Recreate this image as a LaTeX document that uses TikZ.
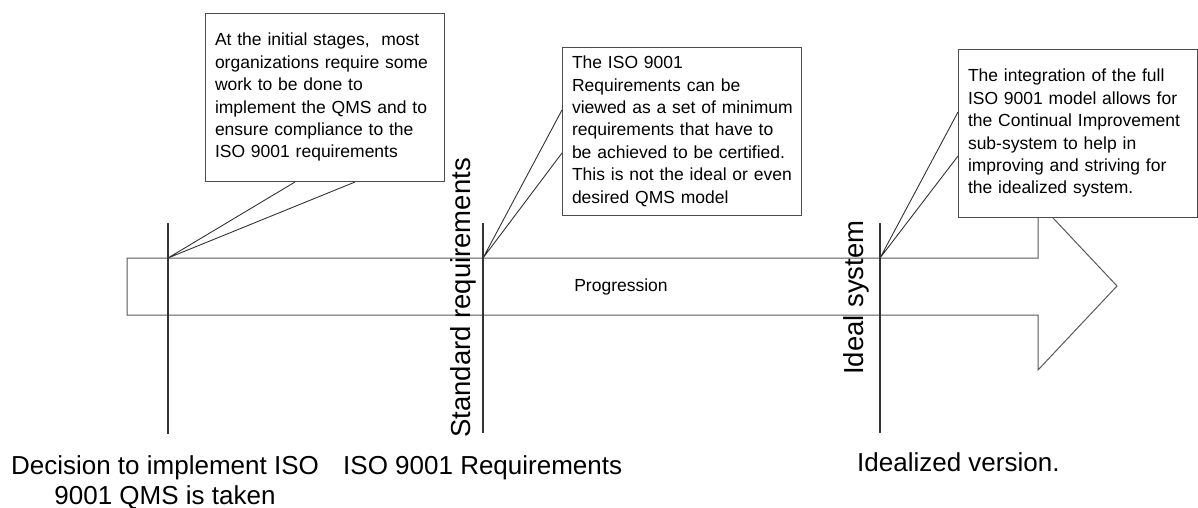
\documentclass[tikz,border=0pt]{standalone}
\usepackage{fontspec}
\setmainfont{Liberation Sans}
\newcommand{\notelines}[1]{\noindent\begin{tabular}{@{}l@{}}#1\end{tabular}}
\begin{document}
\begin{tikzpicture}[x=1pt,y=-1pt,
  note/.style={draw=black!70, fill=white, line width=1pt,
    minimum width=239pt, minimum height=168pt, text width=220pt,
    inner xsep=9.5pt, inner ysep=0pt, anchor=north west,
    font=\fontsize{17.5}{22.4}\selectfont},
  pointer/.style={draw=black!80, line width=0.9pt},
  marker/.style={draw=black!80, line width=1.1pt},
  outline/.style={draw=black!65, line width=1pt, fill=white},
  biglabel/.style={inner sep=0pt, font=\fontsize{26}{30}\selectfont},
  vlabel/.style={inner sep=0pt, rotate=90, anchor=base west, font=\fontsize{27.5}{30}\selectfont}]
\useasboundingbox (0,0) rectangle (1198,508);

% the progression arrow
\draw[outline] (127,258) -- (1038,258) -- (1038,202) -- (1117,286)
  -- (1038,370) -- (1038,315) -- (127,315) -- cycle;
\node[inner sep=0pt, anchor=base, font=\fontsize{17.5}{22.4}\selectfont] (prog) at (621,291) {Progression};

% milestones on the time line
\coordinate (m1) at (168,258);
\coordinate (m2) at (483,258);
\coordinate (m3) at (880,258);
\coordinate (m1t) at (168,223); \coordinate (m1b) at (168,434);
\coordinate (m2t) at (483,223); \coordinate (m2b) at (483,433);
\coordinate (m3t) at (880,223); \coordinate (m3b) at (880,433);
\draw[marker] (m1t) -- (m1b);
\draw[marker] (m2t) -- (m2b);
\draw[marker] (m3t) -- (m3b);

\node[vlabel] (std) at (470,438) {Standard requirements};
\node[vlabel] (ideal) at (863,375) {Ideal system};

% labels under the milestones
\node[biglabel, align=center, anchor=base] (dec) at (165,504)
  {Decision to implement ISO\\9001 QMS is taken};
\node[biglabel, anchor=base west] (req) at (343,474) {ISO 9001 Requirements};
\node[biglabel, anchor=base west] (idv) at (857,471) {Idealized version.};

% callout notes
\node[note] (n1) at (205,13) {\notelines{At the initial stages,\ \ most\\organizations require some\\work to be done to\\implement the QMS and to\\ensure compliance to the\\ISO 9001 requirements}};
\node[note] (n2) at (562,47) {\notelines{The ISO 9001\\Requirements can be\\viewed as a set of minimum\\requirements that have to\\be achieved to be certified.\\This is not the ideal or even\\desired QMS model}};
\node[note] (n3) at (958,49) {\notelines{The integration of the full\\ISO 9001 model allows for\\the Continual Improvement\\sub-system to help in\\improving and striving for\\the idealized system.}};

\coordinate (n1a) at ([xshift=90pt]n1.south west);
\coordinate (n1b) at ([xshift=150pt]n1.south west);
\coordinate (n2a) at ([yshift=-63pt]n2.north west);
\coordinate (n2b) at ([yshift=-106pt]n2.north west);
\coordinate (n3a) at ([yshift=-63pt]n3.north west);
\coordinate (n3b) at ([yshift=-107pt]n3.north west);
\draw[pointer] (n1a) -- (m1) -- (n1b);
\draw[pointer] (n2a) -- (m2) -- (n2b);
\draw[pointer] (n3a) -- (m3) -- (n3b);
\end{tikzpicture}
\end{document}
